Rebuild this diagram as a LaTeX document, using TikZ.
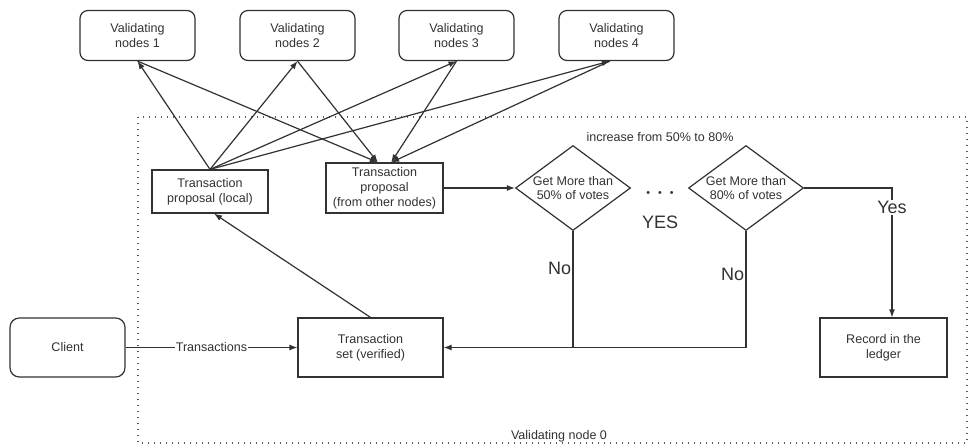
\documentclass[tikz,border=0pt]{standalone}
\usepackage{fontspec}
\setmainfont{Liberation Sans}
\usetikzlibrary{shapes.geometric,arrows.meta}
\definecolor{ink}{RGB}{50,50,50}
\definecolor{frameink}{RGB}{90,90,90}
\tikzset{
  box/.style={draw=ink, line width=0.9pt, align=center, inner sep=0pt, text=ink,
    font=\fontsize{9.4}{11.2}\selectfont},
  roundbox/.style={box, rounded corners=6pt},
  decision/.style={draw=ink, line width=0.9pt, diamond, inner sep=0pt,
    minimum width=86.25pt, minimum height=63.75pt},
  lbl/.style={text=ink, align=center, inner sep=1pt, font=\fontsize{9.4}{11.2}\selectfont},
  biglbl/.style={text=ink, inner sep=1pt, font=\fontsize{13.5}{15}\selectfont},
  link/.style={draw=ink, line width=0.9pt},
  arr/.style={link, -{Latex[length=6pt,width=4.5pt]}}
}
\begin{document}
\begin{tikzpicture}[x=0.75pt,y=0.75pt,yscale=-1,xscale=1]
\useasboundingbox[fill=white] (0,0) rectangle (973,446);

%Shape: Dotted frame [validating node 0]
\draw [frameink, line width=1.1pt, dash pattern=on 1.1pt off 3.4pt] (138,117) rectangle (967,443);

%Shape: Rounded Rect [validating nodes]
\node [roundbox, minimum width=86.25pt, minimum height=37.5pt] (v1) at (137.5,35.5) {Validating\\nodes 1};
\node [roundbox, minimum width=86.25pt, minimum height=37.5pt] (v2) at (297.5,35.5) {Validating\\nodes 2};
\node [roundbox, minimum width=86.25pt, minimum height=37.5pt] (v3) at (456.5,35.5) {Validating\\nodes 3};
\node [roundbox, minimum width=86.25pt, minimum height=37.5pt] (v4) at (616.5,35.5) {Validating\\nodes 4};

%Shape: Rect [proposals]
\node [box, minimum width=87pt, minimum height=32.25pt] (local) at (210,191.5) {Transaction\\proposal (local)};
\node [box, minimum width=87.75pt, minimum height=37.5pt] (other) at (384.5,188) {Transaction\\proposal\\(from other nodes)};

%Shape: Diamond [votes]
\node [decision] (d1) at (573,188) {};
\node [lbl, inner sep=0pt] (d1t) at (d1) {Get More than\\50\% of votes};
\node [decision] (d2) at (746,188) {};
\node [lbl, inner sep=0pt] (d2t) at (d2) {Get More than\\80\% of votes};

%Shape: Rect [bottom row]
\node [roundbox, rounded corners=7pt, minimum width=86.25pt, minimum height=44.25pt] (client) at (67.5,347.5) {Client};
\node [box, minimum width=108.75pt, minimum height=44.25pt] (set) at (370.5,347.5) {Transaction\\set (verified)};
\node [box, minimum width=95.25pt, minimum height=44.25pt] (rec) at (883.5,347.5) {Record in the\\ledger};

% Text Node
\node [lbl] (incr) at (660,137) {increase from 50\% to 80\%};
\node [lbl, font=\fontsize{8}{9}\selectfont] (dots) at (660,194) {\textbullet\hspace{6pt}\textbullet\hspace{6pt}\textbullet};
\node [biglbl] (yes1) at (660,222) {YES};
\node [lbl] (vn0) at (559,436) {Validating node 0};

%Straight Lines [local -> validating nodes]
\draw [arr] (local.north) -- (v1.south);
\draw [arr] (local.north) -- (v2.south);
\draw [arr] (local.north) -- (v3.south);
\draw [arr] (local.north) -- ([xshift=-5]v4.south);

%Straight Lines [validating nodes -> other]
\draw [arr] (v1.south) -- ([xshift=-5]other.north);
\draw [arr] (v2.south) -- ([xshift=-5]other.north);
\draw [arr] (v3.south) -- ([xshift=5]other.north);
\draw [arr] ([xshift=-5]v4.south) -- ([xshift=5]other.north);

%Straight Lines [flow]
\draw [arr] (other.east) -- (d1.west);
\draw [arr] (set.north) -- ([xshift=3]local.south);
\draw [arr] (client.east) -- node [lbl, fill=white] {Transactions} (set.west);
\draw [link] (d1.south) -- node [biglbl, left, pos=0.32] {No} (d1.south |- set.east);
\draw [arr] (d2.south) -- node [biglbl, left, pos=0.37] {No} (d2.south |- set.east) -- (set.east);
\coordinate (yturn) at (892,188);
\draw [arr] (d2.east) -- (yturn) -- node [biglbl, fill=white, pos=0.15] {Yes} (yturn |- rec.north);

\end{tikzpicture}
\end{document}
